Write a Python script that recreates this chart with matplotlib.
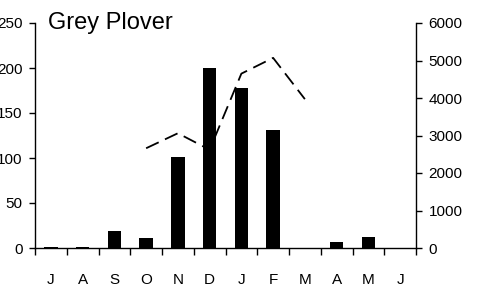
import matplotlib
matplotlib.use("Agg")
import matplotlib.pyplot as plt
import numpy as np

plt.rcParams['font.family'] = ['Liberation Sans', 'DejaVu Sans']
plt.rcParams['lines.scale_dashes'] = False

months = ["J", "A", "S", "O", "N", "D", "J", "F", "M", "A", "M", "J"]
bar_values = [1.5, 1.5, 19, 11, 101, 200, 178, 131, 0, 7, 12.5, 0]
line_values = [np.nan, np.nan, np.nan, 2660, 3060, 2620, 4650, 5070, 3970, np.nan, np.nan, np.nan]
left_ticks = [0, 50, 100, 150, 200, 250]
right_ticks = [0, 1000, 2000, 3000, 4000, 5000, 6000]
title = "Grey Plover"

fig = plt.figure(figsize=(4.96, 2.87), dpi=100)
ax = fig.add_axes([35/496, 1 - 248/287, (416-35)/496, (248-23)/287])
x = np.arange(len(months))
ax.bar(x, bar_values, width=0.42, color='black', zorder=2)
ax.set_xlim(-0.5, 11.5)
ax.set_ylim(0, 250)
ax.set_yticks(left_ticks)
ax.set_xticks(np.arange(-0.5, 12, 1), minor=False)
ax.set_xticklabels([])
ax.set_xticks(x, minor=True)
ax.set_xticklabels(months, minor=True)
ax.tick_params(axis='x', which='major', length=5, width=1, direction='out')
ax.tick_params(axis='x', which='minor', length=0, pad=18, labelsize=11)
ax.tick_params(axis='y', length=4, width=1, direction='out', pad=5, labelsize=11)
ax.spines['top'].set_visible(False)
ax.spines['right'].set_visible(False)
for s in ['left', 'bottom']:
    ax.spines[s].set_linewidth(1)

ax2 = ax.twinx()
ax2.plot(x, line_values, color='black', linewidth=1.3, linestyle=(0, (10, 5)), zorder=3)
ax2.set_ylim(0, 6000)
ax2.set_yticks(right_ticks)
ax2.tick_params(axis='y', length=4, width=1, direction='out', pad=5, labelsize=11)
ax2.spines['top'].set_visible(False)
ax2.spines['left'].set_visible(False)
ax2.spines['bottom'].set_visible(False)
ax2.spines['right'].set_linewidth(1)

fig.text(48/496, 1 - 29/287, title, fontsize=17, va='baseline', ha='left')

fig.savefig("out.png", dpi=100)
